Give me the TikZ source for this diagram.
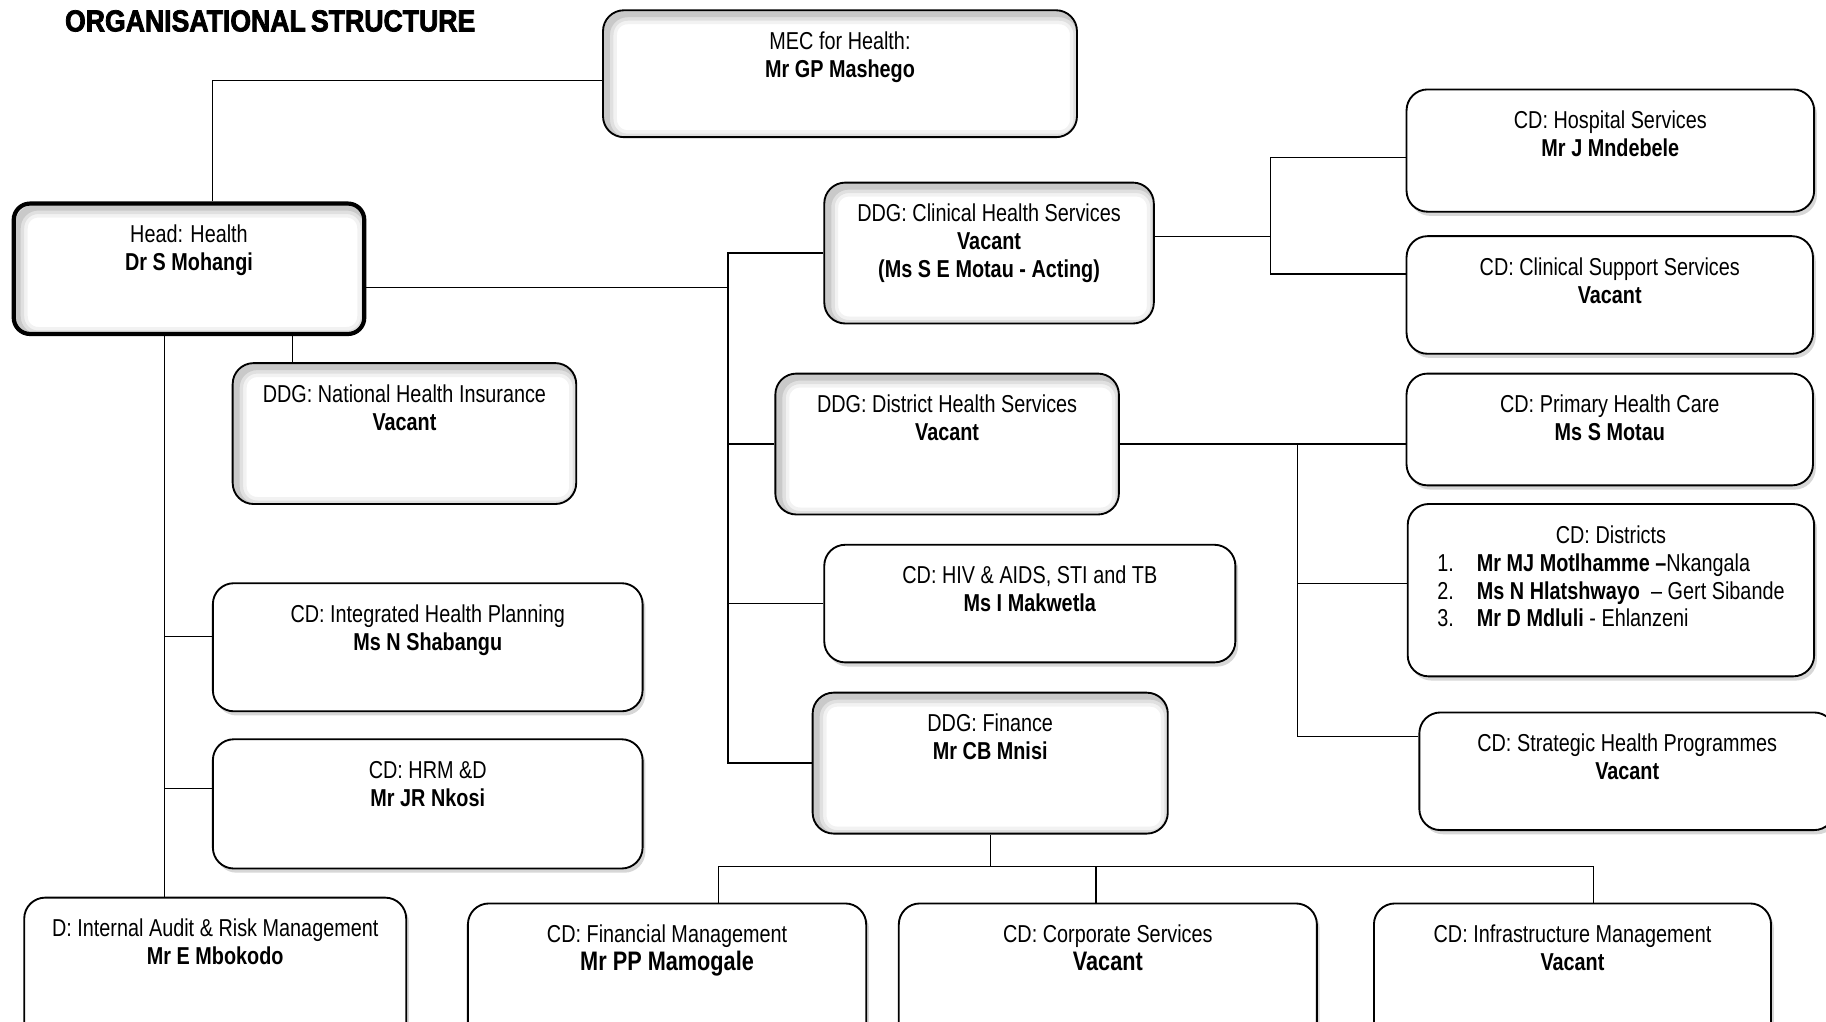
\documentclass[tikz,border=0pt]{standalone}
\usepackage{fontspec}
\setmainfont[FakeStretch=0.81]{Liberation Sans}
\newfontfamily\titlefont[FakeStretch=0.88,FakeBold=2.5,WordSpace=0.7]{Liberation Sans}
\usepackage{tikz}
\usetikzlibrary{shadows}
\newcommand{\boxfont}{\fontsize{10.5}{12}\selectfont\spaceskip=2.4pt plus 1pt minus 0.5pt\relax}
\newcommand{\bigname}[1]{{\fontsize{11.5}{13}\selectfont\spaceskip=2.6pt\relax\bfseries #1}}

\begin{document}
\begin{tikzpicture}[x=0.5pt,y=-0.5pt,line width=0.6pt,
  box/.style={draw,line width=0.8pt,rounded corners=9pt,fill=white,anchor=north west,inner sep=0pt,
    align=flush center,text height=16.8pt,font=\boxfont},
  sz/.style 2 args={text width=#1,text depth=#2-16.8pt},
  cd/.style={box,drop shadow={shadow xshift=1.2pt,shadow yshift=-1.8pt,opacity=0.35,fill=black!45}},
  ddg/.style={box,path picture={
      \foreach \w/\o in {9pt/0.05,6pt/0.07,3pt/0.1}
        \draw[line width=\w,opacity=\o,fill=none,rounded corners=9pt]
          ([shift={(1.5pt,-1.5pt)}]path picture bounding box.north west) rectangle
          ([shift={(1.5pt,-1.5pt)}]path picture bounding box.south east);}}]
\clip (0,0) rectangle (1568,877);
\node[font=\titlefont\bfseries\fontsize{13}{15}\selectfont] (title) at (232,18) {ORGANISATIONAL STRUCTURE};

\node[ddg,sz={203.5pt}{54.5pt}] (mec) at (517,8) {MEC for Health:\\\textbf{Mr GP Mashego}};
\node[ddg,sz={150.5pt}{56pt},line width=1.8pt,rounded corners=7pt] (head) at (10,173) {Head: Health\\\textbf{Dr S Mohangi}};
\node[ddg,sz={141.5pt}{60.5pt}] (chs) at (707,156) {DDG: Clinical Health Services\\\textbf{Vacant}\\\textbf{(Ms S E Motau - Acting)}};
\node[ddg,sz={147.5pt}{60.5pt}] (nhi) at (199,311) {DDG: National Health Insurance\\\textbf{Vacant}};
\node[ddg,sz={147.5pt}{60.5pt}] (dhs) at (665,320) {DDG: District Health Services\\\textbf{Vacant}};
\node[cd,sz={176.5pt}{50.5pt}] (hiv) at (707,467) {CD: HIV \& AIDS, STI and TB\\\textbf{Ms I Makwetla}};
\node[ddg,sz={152.5pt}{60.5pt}] (fin) at (697,594) {DDG: Finance\\\textbf{Mr CB Mnisi}};
\node[cd,sz={184.5pt}{55pt}] (ihp) at (182,500) {CD: Integrated Health Planning\\\textbf{Ms N Shabangu}};
\node[cd,sz={184.5pt}{55.5pt}] (hrm) at (182,634) {CD: HRM \&D\\\textbf{Mr JR Nkosi}};
\node[cd,sz={164pt}{67.5pt}] (audit) at (20,770) {D: Internal Audit \& Risk Management\\\textbf{Mr E Mbokodo}};
\node[cd,sz={171pt}{65pt}] (fm) at (401,775) {CD: Financial Management\\\bigname{Mr PP Mamogale}};
\node[cd,sz={179.5pt}{65pt}] (corp) at (771,775) {CD: Corporate Services\\\bigname{Vacant}};
\node[cd,sz={170.5pt}{65pt}] (infra) at (1179,775) {CD: Infrastructure Management\\\textbf{Vacant}};
\node[cd,sz={175pt}{52.5pt}] (hosp) at (1207,76) {CD: Hospital Services\\\textbf{Mr J Mndebele}};
\node[cd,sz={174.5pt}{50.5pt}] (css) at (1207,202) {CD: Clinical Support Services\\\textbf{Vacant}};
\node[cd,sz={174.5pt}{48pt}] (phc) at (1207,320) {CD: Primary Health Care\\\textbf{Ms S Motau}};
\node[cd,sz={174.5pt}{74pt}] (dist) at (1208,432) {CD: Districts\\
  \begin{tabular}[t]{@{}p{17pt}@{}l@{}}
  1.&\textbf{Mr MJ Motlhamme –}Nkangala\\
  2.&\textbf{Ms N Hlatshwayo}\ \ – Gert Sibande\\
  3.&\textbf{Mr D Mdluli} - Ehlanzeni
  \end{tabular}};
\node[cd,sz={178.5pt}{50.5pt}] (shp) at (1218,611) {CD: Strategic Health Programmes\\\textbf{Vacant}};

\coordinate (trunk) at (625,0);
\coordinate (clin) at (1091,0);
\coordinate (dtrunk) at (1114,0);
\coordinate (htrunk) at (141,0);
\coordinate (fbar) at (0,744);

\draw ([xshift=10pt]head.north) |- ([yshift=-3pt]mec.west);
\draw ([yshift=-8pt]head.east) -- ([yshift=-8pt]head.east -| trunk);
\draw (chs.west) -| (trunk |- fin.west) -- (fin.west);
\foreach \n in {dhs,hiv} \draw (\n.west) -- (\n.west -| trunk);
\draw ([yshift=7pt]chs.east) -- ([yshift=7pt]chs.east -| clin);
\draw ([yshift=-3pt]hosp.west) -| ([yshift=9pt]css.west -| clin) -- ([yshift=9pt]css.west);
\draw (dhs.east) -- (phc.west |- dhs.east);
\draw (dhs.east -| dtrunk) |- ([yshift=15pt]shp.west);
\draw ([yshift=3pt]dist.west) -- ([yshift=3pt]dist.west -| dtrunk);
\draw (head.south -| htrunk) -- (audit.north -| htrunk);
\draw ([yshift=4.5pt]ihp.west) -- ([yshift=4.5pt]ihp.west -| htrunk);
\draw ([yshift=6.5pt]hrm.west) -- ([yshift=6.5pt]hrm.west -| htrunk);
\draw ([xshift=-48pt]nhi.north) -- ([xshift=-48pt]nhi.north |- head.south);
\draw (fin.south) -- (fin.south |- fbar);
\draw ([xshift=22pt]fm.north) |- ([xshift=9pt]infra.north |- fbar) -- ([xshift=9pt]infra.north);
\draw ([xshift=-5pt]corp.north) -- ([xshift=-5pt]corp.north |- fbar);
\end{tikzpicture}
\end{document}
